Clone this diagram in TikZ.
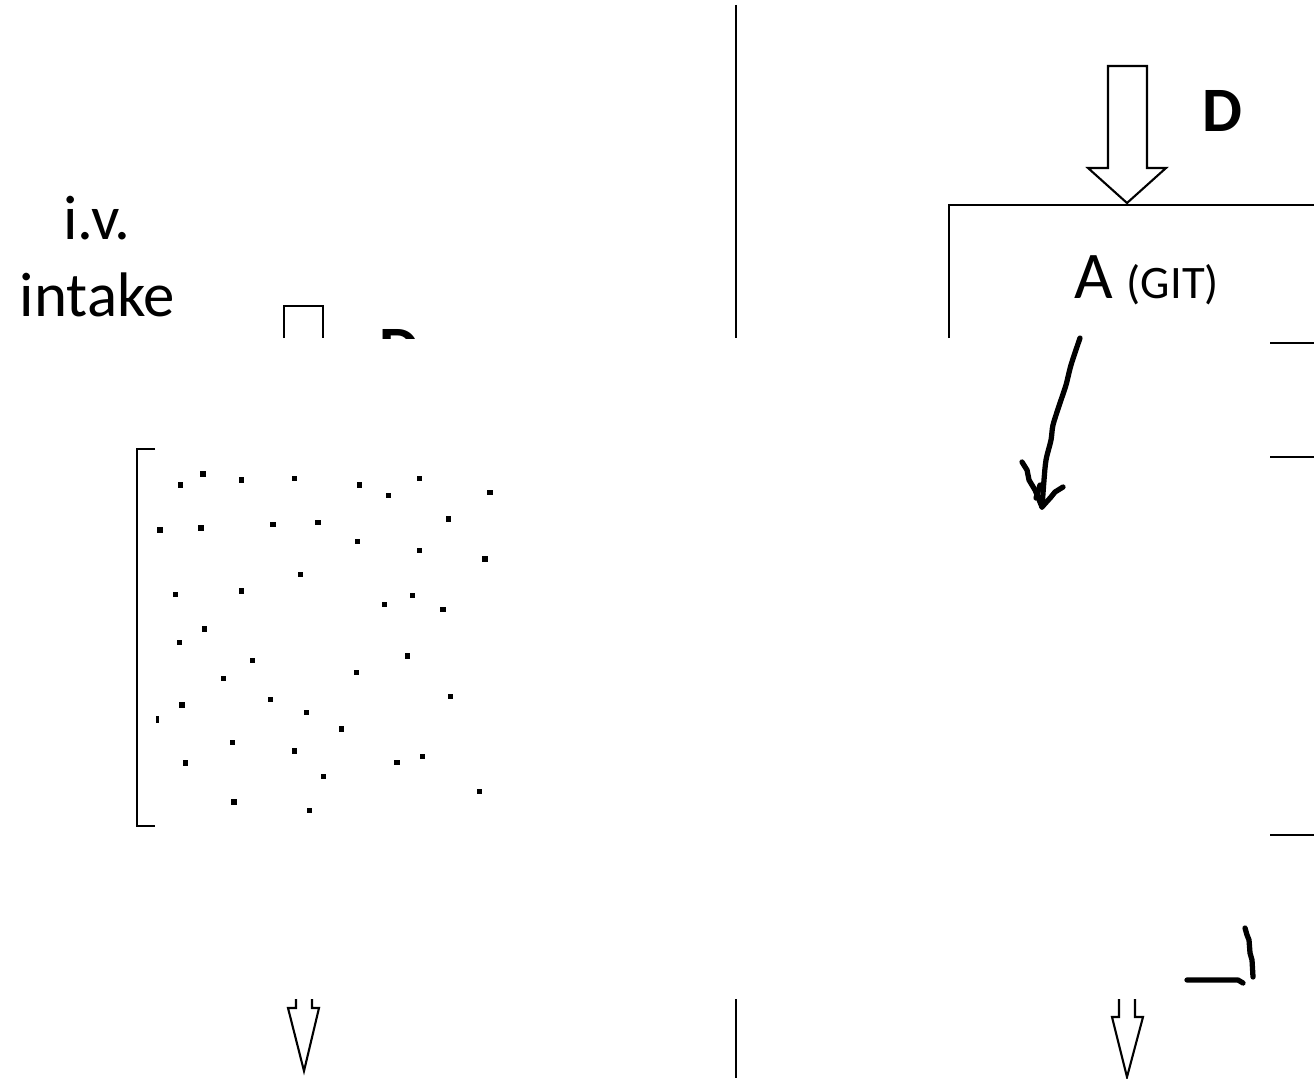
\documentclass[tikz,border=0pt]{standalone}
\usepackage{fontspec}
\setmainfont{Carlito}
\begin{document}
\begin{tikzpicture}[x=0.02cm,y=-0.02cm,
  thinline/.style={draw=black,line width=1.2pt,line join=miter},
  handline/.style={draw=black,line width=3pt,line cap=round,line join=round},
  pdot/.style={fill=black},
  lbl/.style={inner sep=0pt,outer sep=0pt,font=\fontsize{35.8}{36}\selectfont}]
\useasboundingbox (0,0) rectangle (1314,1078);
% divider
\draw[thinline] (736,5) -- (736,338);
\draw[thinline] (736,999) -- (736,1078);
% left texts
\node[lbl,anchor=base] (iv) at (97,239) {i.v.};
\node[lbl,anchor=base] (intake) at (97.5,316) {intake};
% left block arrow (cut)
\draw[thinline] (284,338) -- (284,306) -- (323,306) -- (323,338);
\begin{scope}
\clip (0,0) rectangle (1314,338);
\node[lbl,anchor=base west,font=\fontsize{36}{36}\selectfont\bfseries] (Dleft) at (379,370.7) {D};
\end{scope}
% bracket
\draw[thinline] (155,449) -- (137,449) -- (137,826) -- (155,826);
% dots
\foreach \px/\py in {180.7/485,203/474,241.7/480,294.3/478.7,359.3/485,388.7/495.3,419.3/478.7,490/492.3,
  160/530,201/528,273/524.7,318/522.7,357.7/541.7,448.7/519,419.3/550.3,485/559,300.7/574.3,
  175.7/594.3,241.7/591,384.7/604.7,412.7/595.7,443/609.7,204.7/629,
  179.3/642.3,252.3/660.7,407.3/656,223.7/678.3,356.3/672.7,450.3/696.3,182/705,270.7/699.7,
  306.3/712.3,341.7/729,232.7/742.7,294.3/751,185.7/763,397/762.7,422.3/756.7,
  323.7/776.7,479.3/791.7,234/802,309.7/810.7}
  {\fill[pdot] (\px-2.7,\py-2.7) rectangle (\px+2.7,\py+2.7);}
\fill[pdot] (156.3,715.5) rectangle (158.5,722.5);
% right block arrow
\draw[thinline] (1108,66) -- (1147,66) -- (1147,168) -- (1166,168) -- (1127,203) -- (1088,168) -- (1108,168) -- cycle;
\node[lbl,anchor=base west,font=\fontsize{36}{36}\selectfont\bfseries] (Dright) at (1202,131.7) {D};
% right box
\draw[thinline] (949,338) -- (949,205) -- (1314,205);
\node[lbl,anchor=base west] (A) at (1074,298) {{\fontsize{38}{38}\selectfont A} {\fontsize{26.5}{27}\selectfont (GIT)}};
% right short lines
\draw[thinline] (1270,343) -- (1314,343);
\draw[thinline] (1270,457) -- (1314,457);
\draw[thinline] (1270,835) -- (1314,835);
% hand-drawn arrow
\draw[handline] plot[smooth] coordinates {(1080,338) (1071,365) (1066,385) (1060,403) (1053,425) (1051,440) (1046,460) (1044,480) (1042,507)};
\draw[handline] (1022,462) -- (1027,470) -- (1029,480) -- (1035,490) -- (1042,507);
\draw[handline] (1063,487) -- (1055,492) -- (1051,497) -- (1042,507);
\draw[handline] (1036,498) -- (1040,485);
% hand marks bottom right
\draw[handline] (1187,980) -- (1238,980) -- (1243,983);
\draw[handline] (1245,928) -- (1247,935) -- (1249,940) -- (1250,953) -- (1252,960) -- (1253,977);
% bottom arrows
\draw[thinline] (296,999) -- (296,1008) -- (288,1008) -- (304,1071) -- (319,1008) -- (312,1008) -- (312,999);
\draw[thinline] (1119,999) -- (1119,1017) -- (1112,1017) -- (1127,1077) -- (1143,1017) -- (1135,1017) -- (1135,999);
\end{tikzpicture}
\end{document}
